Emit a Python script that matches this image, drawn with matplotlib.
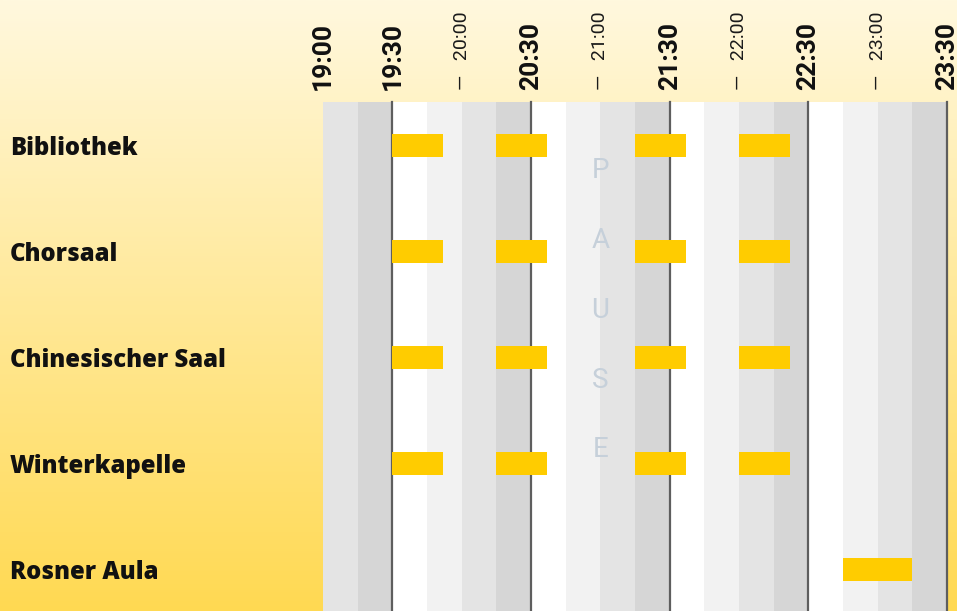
import numpy as np
import matplotlib
matplotlib.use("Agg")
import matplotlib.pyplot as plt
from matplotlib.transforms import blended_transform_factory

# rooms and sessions (times as "HH:MM")
rooms = ["Bibliothek", "Chorsaal", "Chinesischer Saal", "Winterkapelle", "Rosner Aula"]
session_room = [0, 0, 0, 0, 1, 1, 1, 1, 2, 2, 2, 2, 3, 3, 3, 3, 4]
session_start = ["19:30", "20:15", "21:15", "22:00",
                 "19:30", "20:15", "21:15", "22:00",
                 "19:30", "20:15", "21:15", "22:00",
                 "19:30", "20:15", "21:15", "22:00",
                 "22:45"]
session_end = ["19:52", "20:37", "21:37", "22:22",
               "19:52", "20:37", "21:37", "22:22",
               "19:52", "20:37", "21:37", "22:22",
               "19:52", "20:37", "21:37", "22:22",
               "23:15"]
major_ticks = ["19:00", "19:30", "20:30", "21:30", "22:30", "23:30"]
minor_ticks = ["20:00", "21:00", "22:00", "23:00"]
grid_lines = ["19:30", "20:30", "21:30", "22:30", "23:30"]
pause_time = "21:00"
pause_text = "PAUSE"
day_start = "19:00"
day_end = "23:30"


def mins(t):
    h, m = t.split(":")
    return (int(h) - 19) * 60 + int(m)


W, H = 957, 611
fig = plt.figure(figsize=(W / 100, H / 100), dpi=100)

# yellow gradient background
bg = fig.add_axes([0, 0, 1, 1])
top = np.array([255, 248, 222]) / 255
bot = np.array([255, 217, 82]) / 255
t = np.linspace(0, 1, 256)[:, None]
grad = top[None, :] * (1 - t) + bot[None, :] * t
bg.imshow(grad[:, None, :], aspect="auto", extent=[0, 1, 0, 1])
bg.set_axis_off()

left_px, right_px, top_px = 323, 947, 102
ax = fig.add_axes([left_px / W, 0, (right_px - left_px) / W, (H - top_px) / H])
x0, x1 = mins(day_start), mins(day_end)
ax.set_xlim(x0, x1)
ax.set_ylim(4 + (611 - 569.5) / 106, -(145.5 - 102) / 106)
ax.set_axis_off()

# 15-minute stripes
stripe_cols = ["#ffffff", "#f2f2f2", "#e4e4e4", "#d6d6d6"]
for k, s in enumerate(range(x0, x1, 15)):
    ax.axvspan(s, s + 15, color=stripe_cols[(k + 2) % 4], lw=0, zorder=0)

for g in grid_lines:
    ax.axvline(mins(g), color="#5e5e5e", lw=1.6, zorder=1, clip_on=False)

# pause letters
for i, ch in enumerate(pause_text):
    ax.text(mins(pause_time), np.linspace(0.24, 2.87, len(pause_text))[i], ch,
            ha="center", va="center", fontsize=20, family="Roboto",
            fontweight="normal", color="#c6d0da", zorder=2)

# sessions
for r, s, e in zip(session_room, session_start, session_end):
    ax.barh(r, mins(e) - mins(s), left=mins(s), height=0.217,
            color="#ffcc00", lw=0, zorder=3)

# time labels above
tr = blended_transform_factory(ax.transData, fig.transFigure)
for tk in major_ticks:
    ax.text(mins(tk), (H - 90) / H, tk, transform=tr, rotation=90,
            ha="center", va="bottom", fontsize=19, family="Roboto",
            fontweight="bold", color="#111111")
for tk in minor_ticks:
    ax.text(mins(tk), (H - 90) / H, "\u2014   " + tk, transform=tr, rotation=90,
            ha="center", va="bottom", fontsize=14, family="Roboto",
            fontweight="normal", color="#1a1a1a")

# room labels
tr2 = blended_transform_factory(fig.transFigure, ax.transData)
for i, room in enumerate(rooms):
    ax.text(10 / W, i + 0.03, room, transform=tr2, ha="left", va="center",
            fontsize=17.2, family="Open Sans", fontweight="heavy", color="#111111")

fig.savefig("out.png", dpi=100)
